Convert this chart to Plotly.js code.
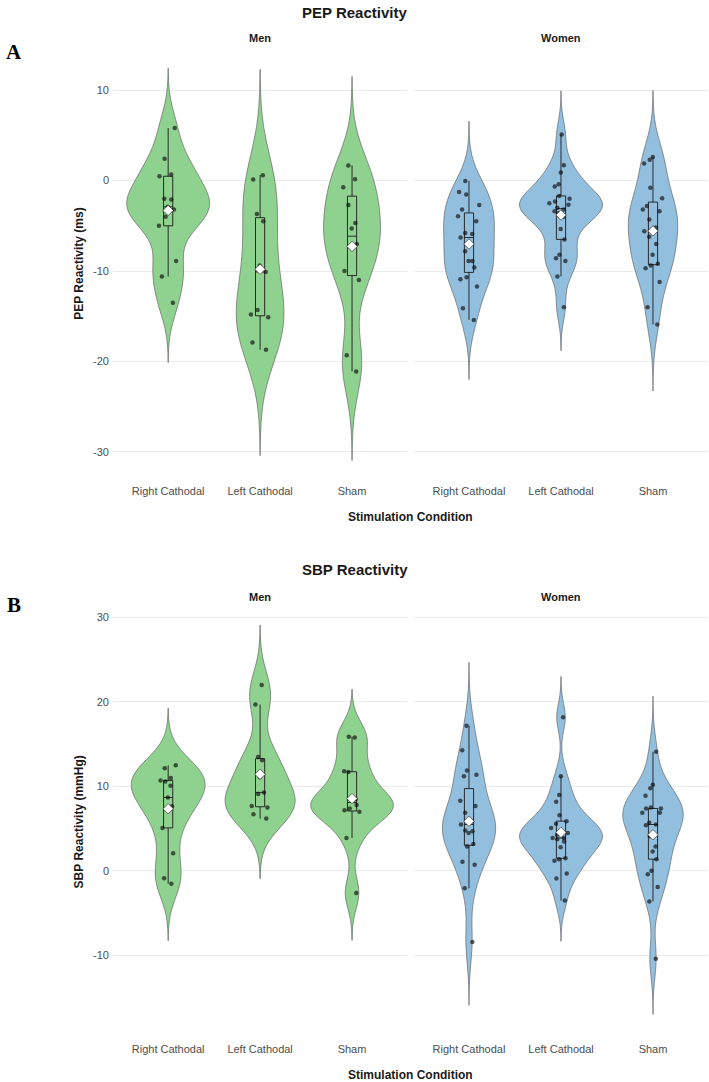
<!DOCTYPE html>
<html>
<head>
<meta charset="utf-8">
<script src="https://cdn.plot.ly/plotly-3.0.1.min.js"></script>
<style>html,body{margin:0;padding:0;background:#fff}#chart{width:709px;height:1082px}</style>
</head>
<body>
<div id="chart"></div>
<script>
// ---------- data ----------
const conditions = ['Right Cathodal', 'Left Cathodal', 'Sham'];
const sexes = ['Men', 'Women'];

// PEP reactivity (ms)
const pepMenRight   = [5.8, 2.4, 0.66, 0.48, -2.0, -2.1, -2.9, -3.2, -4.0, -5.0, -8.9, -10.6, -13.5];
const pepMenLeft    = [0.59, 0.11, -3.7, -4.5, -9.4, -10.1, -14.3, -14.8, -15.1, -17.9, -18.7];
const pepMenSham    = [1.66, 0.15, -0.74, -2.7, -4.7, -5.3, -7.0, -7.3, -10.0, -11.0, -19.3, -21.1];
const pepWomenRight = [-0.04, -1.25, -1.55, -2.7, -3.2, -3.95, -4.5, -5.8, -5.9, -6.3, -7.8, -8.9, -8.9, -9.6, -10.7, -10.9, -11.7, -14.1, -15.4];
const pepWomenLeft  = [5.1, 1.7, 0.9, -0.4, -0.66, -1.7, -2.0, -2.3, -2.5, -2.66, -3.0, -3.2, -3.4, -3.6, -4.0, -5.35, -6.5, -8.2, -8.6, -8.9, -10.6, -14.0];
const pepWomenSham  = [2.6, 2.3, 1.9, -0.8, -1.96, -2.8, -3.2, -3.4, -4.3, -5.2, -5.6, -6.2, -7.0, -8.2, -9.2, -9.4, -9.7, -11.2, -14.0, -15.9];

// SBP reactivity (mmHg)
const sbpMenRight   = [12.5, 12.15, 11.0, 10.7, 10.6, 10.1, 8.7, 7.66, 7.4, 5.1, 2.1, -0.86, -1.5];
const sbpMenLeft    = [22.0, 19.7, 13.5, 13.1, 11.1, 9.3, 9.1, 7.7, 7.5, 6.7, 6.2];
const sbpMenSham    = [15.9, 15.8, 11.8, 11.7, 8.5, 8.4, 7.8, 7.4, 7.2, 7.0, 3.9, -2.6];
const sbpWomenRight = [17.2, 14.3, 11.9, 11.4, 11.2, 8.3, 7.7, 6.9, 5.9, 5.5, 4.8, 4.7, 4.5, 3.2, 2.9, 1.1, 0.75, -2.05, -8.4];
const sbpWomenLeft  = [18.2, 11.2, 9.0, 8.2, 6.6, 5.9, 5.6, 5.1, 4.5, 4.3, 3.9, 3.9, 3.75, 3.5, 2.8, 1.5, 1.4, 1.2, -0.3, -0.9, -3.5];
const sbpWomenSham  = [14.1, 10.2, 9.8, 8.9, 7.5, 7.4, 7.4, 6.9, 6.9, 5.7, 5.5, 5.4, 4.1, 2.9, 2.3, 1.4, 0.04, -0.4, -1.9, -3.6, -10.4];

const pepTicks = [-30, -20, -10, 0, 10];
const sbpTicks = [-10, 0, 10, 20, 30];

// ---------- helpers ----------
const W = 709, H = 1082;
const fx = v => v / W;
const fy = v => 1 - v / H;

function quantile7(sorted, p) {
  const h = (sorted.length - 1) * p;
  const lo = Math.floor(h), hi = Math.ceil(h);
  return sorted[lo] + (h - lo) * (sorted[hi] - sorted[lo]);
}
function bwNrd0(arr) {
  const n = arr.length;
  const m = arr.reduce((a, b) => a + b, 0) / n;
  const sd = Math.sqrt(arr.reduce((a, b) => a + (b - m) * (b - m), 0) / (n - 1));
  const s = arr.slice().sort((a, b) => a - b);
  const iqr = quantile7(s, 0.75) - quantile7(s, 0.25);
  const lo = Math.min(sd, iqr / 1.34);
  return 0.9 * lo * Math.pow(n, -0.2);
}
function maxDensity(arr, bw) {
  const lo = Math.min(...arr) - 3 * bw, hi = Math.max(...arr) + 3 * bw;
  let best = 0;
  for (let i = 0; i < 512; i++) {
    const y = lo + (hi - lo) * i / 511;
    let d = 0;
    for (const v of arr) { const z = (y - v) / bw; d += Math.exp(-0.5 * z * z); }
    d /= arr.length * bw * Math.sqrt(2 * Math.PI);
    if (d > best) best = d;
  }
  return best;
}
const mean = a => a.reduce((s, v) => s + v, 0) / a.length;

const GREEN = '#8FD18F';
const BLUE = '#93BFDF';

const panels = [
  { groups: [pepMenRight, pepMenLeft, pepMenSham],       xa: 'x',  ya: 'y',  color: GREEN },
  { groups: [pepWomenRight, pepWomenLeft, pepWomenSham], xa: 'x2', ya: 'y',  color: BLUE },
  { groups: [sbpMenRight, sbpMenLeft, sbpMenSham],       xa: 'x3', ya: 'y2', color: GREEN },
  { groups: [sbpWomenRight, sbpWomenLeft, sbpWomenSham], xa: 'x4', ya: 'y2', color: BLUE }
];

const traces = [];
panels.forEach(p => {
  const bws = p.groups.map(bwNrd0);
  const maxd = p.groups.map((g, i) => maxDensity(g, bws[i]));
  const top = Math.max(...maxd);
  p.groups.forEach((g, i) => {
    const w = 0.9 * maxd[i] / top;
    traces.push({
      type: 'violin',
      x: g.map(() => conditions[i]),
      y: g,
      xaxis: p.xa, yaxis: p.ya,
      fillcolor: p.color,
      line: { color: '#555555', width: 0.6 },
      bandwidth: bws[i],
      spanmode: 'manual',
      span: [Math.min(...g) - 3 * bws[i], Math.max(...g) + 3 * bws[i]],
      width: w,
      scalemode: 'width',
      quartilemethod: 'inclusive',
      box: { visible: true, width: 0.1 / w, fillcolor: p.color, line: { color: '#1a1a1a', width: 0.9 } },
      meanline: { visible: false },
      points: 'all',
      pointpos: 0,
      jitter: Math.min(1, 0.26 / w),
      marker: { color: 'rgba(10,10,10,0.65)', size: 4.5, line: { width: 0 } },
      hoverinfo: 'skip',
      showlegend: false
    });
  });
  traces.push({
    type: 'scatter', mode: 'markers',
    x: conditions, y: p.groups.map(mean),
    xaxis: p.xa, yaxis: p.ya,
    marker: { symbol: 'diamond', size: 8, color: '#ffffff', line: { color: '#333333', width: 0.7 } },
    hoverinfo: 'skip', showlegend: false
  });
});

// ---------- layout ----------
const xBase = {
  type: 'category', categoryorder: 'array', categoryarray: conditions,
  range: [-0.6, 2.6], showgrid: false, zeroline: false, showline: false,
  ticks: '', color: '#4d4d4d', tickfont: { size: 11, color: '#4d4d4d' },
  ticklabelstandoff: 3, fixedrange: true
};
const yBase = {
  showgrid: true, gridcolor: '#EBEBEB', gridwidth: 1, zeroline: false, showline: false,
  ticks: '', color: '#4d4d4d', tickfont: { size: 11, color: '#4d4d4d' },
  ticklabelstandoff: 3, fixedrange: true
};

const menA = [113, 407.2], womenA = [413.8, 708.2];
const topA = 47.6, botA = 480, topB = 606.5, botB = 1038.3;

const layout = {
  width: W, height: H,
  margin: { l: 0, r: 0, t: 0, b: 0 },
  paper_bgcolor: '#ffffff', plot_bgcolor: '#ffffff',
  font: { family: 'Liberation Sans, Arial, sans-serif', color: '#1a1a1a' },
  showlegend: false,
  violinmode: 'overlay',
  xaxis:  Object.assign({}, xBase, { domain: [fx(menA[0]), fx(menA[1])], anchor: 'y' }),
  xaxis2: Object.assign({}, xBase, { domain: [fx(womenA[0]), fx(womenA[1])], anchor: 'y' }),
  xaxis3: Object.assign({}, xBase, { domain: [fx(menA[0]), fx(menA[1])], anchor: 'y2' }),
  xaxis4: Object.assign({}, xBase, { domain: [fx(womenA[0]), fx(womenA[1])], anchor: 'y2' }),
  yaxis:  Object.assign({}, yBase, { domain: [fy(botA), fy(topA)], range: [-33.1, 14.7],
            tickmode: 'array', tickvals: pepTicks, ticktext: pepTicks.map(String), anchor: 'x' }),
  yaxis2: Object.assign({}, yBase, { domain: [fy(botB), fy(topB)], range: [-19.8, 31.3],
            tickmode: 'array', tickvals: sbpTicks, ticktext: sbpTicks.map(String), anchor: 'x3' }),
  annotations: []
};

function ann(text, x, y, size, opts) {
  layout.annotations.push(Object.assign({
    text: text, x: fx(x), y: fy(y), xref: 'paper', yref: 'paper',
    xanchor: 'center', yanchor: 'middle', showarrow: false,
    font: { size: size, color: '#1a1a1a' }
  }, opts || {}));
}
const midX = (menA[0] + womenA[1]) / 2;
const serif = 'Liberation Serif, Times New Roman, serif';
// Panel A
ann('<b>PEP Reactivity</b>', W / 2, 12, 15);
ann('<b>A</b>', 14, 52, 21, { font: { size: 21, color: '#000', family: serif } });
ann('<b>' + sexes[0] + '</b>', (menA[0] + menA[1]) / 2, 38, 11);
ann('<b>' + sexes[1] + '</b>', (womenA[0] + womenA[1]) / 2, 38, 11);
ann('<b>PEP Reactivity (ms)</b>', 79, (topA + botA) / 2, 12, { textangle: -90 });
ann('<b>Stimulation Condition</b>', midX, 517, 12);
// Panel B
ann('<b>SBP Reactivity</b>', W / 2, 569, 15);
ann('<b>B</b>', 14, 605, 21, { font: { size: 21, color: '#000', family: serif } });
ann('<b>' + sexes[0] + '</b>', (menA[0] + menA[1]) / 2, 597, 11);
ann('<b>' + sexes[1] + '</b>', (womenA[0] + womenA[1]) / 2, 597, 11);
ann('<b>SBP Reactivity (mmHg)</b>', 79, (topB + botB) / 2, 12, { textangle: -90 });
ann('<b>Stimulation Condition</b>', midX, 1075, 12);

Plotly.newPlot('chart', traces, layout, { displayModeBar: false, staticPlot: true });
</script>
</body>
</html>
